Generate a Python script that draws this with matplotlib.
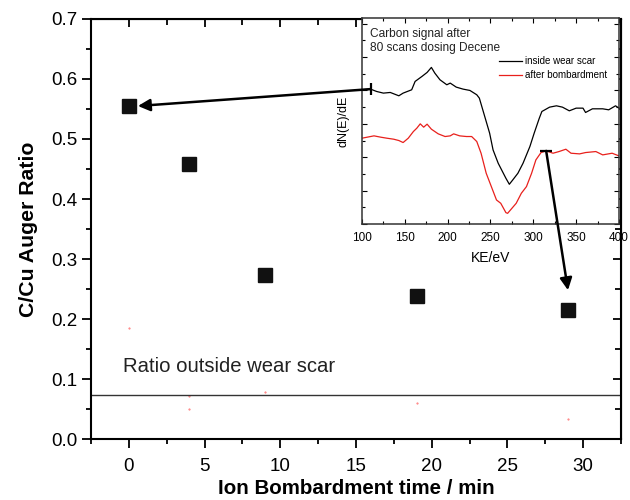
import numpy as np
import matplotlib.pyplot as plt
from matplotlib.patches import ConnectionPatch
from matplotlib.ticker import MultipleLocator

plt.rcParams["font.family"] = ["Liberation Sans", "DejaVu Sans"]

# main data: C/Cu Auger ratio vs bombardment time
time_min = [0, 4, 9, 19, 29]
ratio = [0.555, 0.458, 0.274, 0.239, 0.215]
ratio_outside = 0.074

# faint red specks in the scan
speck_x = [0, 4, 4, 9, 19, 29]
speck_y = [0.185, 0.072, 0.050, 0.078, 0.060, 0.033]

# inset spectra (KE / eV, arbitrary units)
ke_black = [100, 110, 117, 125, 133, 143, 148, 158, 162, 170, 176, 181, 185, 191,
            199, 203, 210, 218, 226, 234, 237, 241, 249, 253, 259, 265, 268, 272,
            276, 282, 288, 296, 301, 307, 310, 319, 327, 334, 342, 350, 358, 361,
            369, 381, 388, 396, 400]
sig_black = [4.02, 4.04, 3.97, 3.92, 3.94, 3.84, 3.92, 4.02, 4.27, 4.42, 4.54, 4.69,
             4.52, 4.32, 4.17, 4.22, 4.10, 4.04, 4.00, 3.87, 3.77, 3.42, 2.72, 2.22,
             1.82, 1.52, 1.37, 1.19, 1.32, 1.52, 1.82, 2.32, 2.72, 3.17, 3.37, 3.50,
             3.54, 3.50, 3.39, 3.47, 3.47, 3.34, 3.45, 3.45, 3.42, 3.54, 3.47]
ke_red = [100, 106, 114, 122, 129, 137, 143, 148, 154, 160, 164, 168, 172, 176,
          181, 189, 197, 203, 207, 214, 222, 228, 234, 239, 245, 251, 257, 262,
          268, 270, 274, 280, 286, 292, 298, 303, 309, 315, 323, 330, 338, 344,
          354, 361, 373, 381, 392, 400]
sig_red = [2.57, 2.60, 2.64, 2.60, 2.57, 2.54, 2.50, 2.44, 2.57, 2.77, 2.87, 3.00,
           2.90, 2.99, 2.84, 2.70, 2.62, 2.64, 2.70, 2.64, 2.62, 2.62, 2.47, 2.12,
           1.52, 1.12, 0.72, 0.62, 0.34, 0.32, 0.44, 0.62, 0.92, 1.12, 1.52, 1.92,
           2.14, 2.19, 2.12, 2.17, 2.24, 2.12, 2.10, 2.14, 2.17, 2.07, 2.12, 2.04]

fig = plt.figure(figsize=(6.3, 5.0), dpi=100)
ax = fig.add_axes([0.1444, 0.122, 0.8413, 0.84])

ax.plot(time_min, ratio, "s", ms=10.5, color="#111111", zorder=3)
ax.plot(speck_x, speck_y, ".", ms=1.0, color="#ff7070")
ax.axhline(ratio_outside, color="#333333", lw=1.0)
ax.text(-0.4, 0.112, "Ratio outside wear scar", fontsize=14.6, color="#222222")

ax.set_xlim(-2.5, 32.5)
ax.set_ylim(0, 0.7)
ax.xaxis.set_major_locator(MultipleLocator(5))
ax.xaxis.set_minor_locator(MultipleLocator(2.5))
ax.yaxis.set_major_locator(MultipleLocator(0.1))
ax.yaxis.set_minor_locator(MultipleLocator(0.05))
ax.yaxis.set_major_formatter(plt.FuncFormatter(lambda v, p: f"{v:.1f}"))
ax.tick_params(which="both", direction="out", width=1.3, labelsize=13.5)
ax.tick_params(which="major", length=6.5)
ax.tick_params(which="minor", length=3.5)
ax.tick_params(axis="x", pad=7)
for s in ax.spines.values():
    s.set_linewidth(1.5)
ax.set_xlabel("Ion Bombardment time / min", fontsize=14.8, fontweight="bold", labelpad=3)
ax.set_ylabel("C/Cu Auger Ratio", fontsize=15.3, fontweight="bold", labelpad=9)

# top / right ticks point inward
ax2 = ax.secondary_xaxis("top")
ax2.set_xticks(np.arange(0, 31, 5))
ax2.xaxis.set_minor_locator(MultipleLocator(2.5))
ax2.tick_params(which="both", direction="in", labeltop=False, width=1.3)
ax2.tick_params(which="major", length=6)
ax2.tick_params(which="minor", length=4)
ax3 = ax.secondary_yaxis("right")
ax3.yaxis.set_major_locator(MultipleLocator(0.1))
ax3.yaxis.set_minor_locator(MultipleLocator(0.05))
ax3.tick_params(which="both", direction="in", labelright=False, width=1.3)
ax3.tick_params(which="major", length=6)
ax3.tick_params(which="minor", length=4)

# inset
ins = fig.add_axes([0.5746, 0.552, 0.4079, 0.412])
ins.plot(ke_black, sig_black, color="black", lw=0.9, label="inside wear scar")
ins.plot(ke_red, sig_red, color="#e8201c", lw=0.9, label="after bombardment")
ins.set_xlim(100, 400)
ins.set_ylim(0, 6.17)
ins.xaxis.set_major_locator(MultipleLocator(50))
ins.xaxis.set_minor_locator(MultipleLocator(25))
ins.yaxis.set_major_locator(MultipleLocator(1))
ins.yaxis.set_minor_locator(MultipleLocator(0.5))
ins.tick_params(which="both", direction="in", labelleft=False, labelsize=8.5,
                top=True, right=True, width=0.8, pad=6)
ins.tick_params(which="major", length=3.5)
ins.tick_params(which="minor", length=2)
for s in ins.spines.values():
    s.set_linewidth(1.1)
    s.set_color("#333333")
ins.set_xlabel("KE/eV", fontsize=10, labelpad=5)
ins.set_ylabel("dN(E)/dE", fontsize=9, labelpad=9)
ins.text(0.03, 0.95, "Carbon signal after\n80 scans dosing Decene", transform=ins.transAxes,
         fontsize=8.6, va="top", color="#222222", linespacing=1.2)
ins.legend(loc="upper left", bbox_to_anchor=(0.535, 0.815), fontsize=7, frameon=False,
           borderpad=0, borderaxespad=0, handlelength=2.3, handletextpad=0.3,
           labelspacing=0.45)

# arrows from the inset curves to the data points
arrows = [((110, 4.04), (0.6, 0.555)), ((315, 2.19), (29.0, 0.248))]
for (ka, sa), (xb, yb) in arrows:
    con = ConnectionPatch(xyA=(ka, sa), coordsA=ins.transData,
                          xyB=(xb, yb), coordsB=ax.transData,
                          arrowstyle="-|>", mutation_scale=18, lw=1.8, color="black",
                          zorder=10)
    fig.add_artist(con)
ins.plot([110], [4.04], marker="|", ms=9, mew=1.6, color="black", clip_on=False)
ins.plot([315], [2.19], marker="_", ms=9, mew=1.6, color="black", clip_on=False)

fig.savefig("out.png", dpi=100)
